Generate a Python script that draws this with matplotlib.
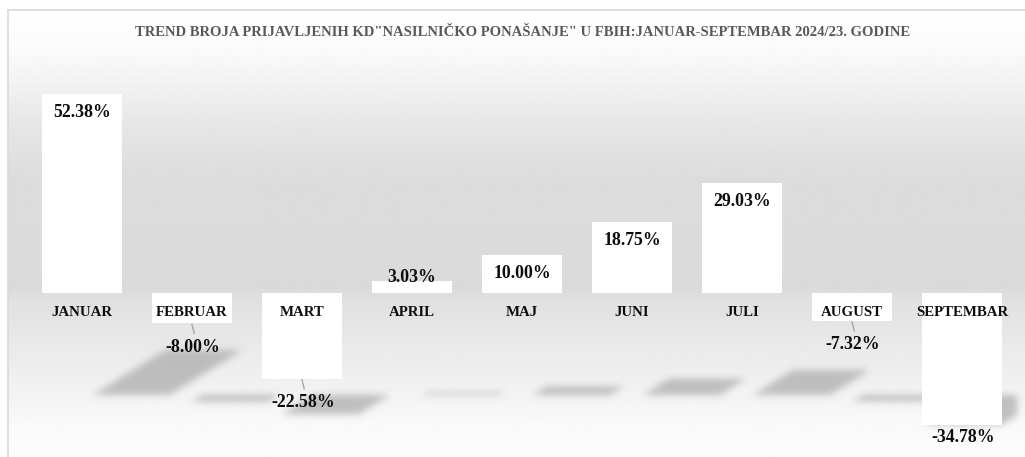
import numpy as np
import matplotlib
matplotlib.use("Agg")
import matplotlib.pyplot as plt
from matplotlib.patches import Polygon
from matplotlib.colors import to_rgb

# ---- data ----
months = ["JANUAR", "FEBRUAR", "MART", "APRIL", "MAJ", "JUNI", "JULI", "AUGUST", "SEPTEMBAR"]
changes = [52.38, -8.00, -22.58, 3.03, 10.00, 18.75, 29.03, -7.32, -34.78]
title = 'TREND BROJA PRIJAVLJENIH KD"NASILNIČKO PONAŠANJE" U FBIH:JANUAR-SEPTEMBAR 2024/23. GODINE'

W, H = 1025, 457
DPI = 100
fig = plt.figure(figsize=(W / DPI, H / DPI), dpi=DPI)
fig.patch.set_facecolor("white")

SERIF = ["Liberation Serif", "DejaVu Serif"]

# ---- background (chart area with gradient) ----
bg = fig.add_axes([0, 0, 1, 1], zorder=0)
bg.set_xlim(0, W)
bg.set_ylim(H, 0)
bg.axis("off")
stops_y = [9, 40, 80, 130, 180, 286, 302, 340, 380, 420, 457]
stops_v = [255, 252, 243, 229, 220, 218, 225, 232, 240, 248, 253]
yy = np.arange(9, H + 1)
vals = np.interp(yy, stops_y, stops_v) / 255.0
grad = np.repeat(vals[:, None], 2, axis=1)
bg.imshow(grad, cmap="gray", vmin=0, vmax=1, extent=[7.5, W, H, 9.5],
          aspect="auto", interpolation="bilinear")
bg.plot([7.5, 7.5], [9.5, H], color="#d9d9d9", lw=1.2)
bg.plot([7.5, W], [9.5, 9.5], color="#d9d9d9", lw=1.2)

# ---- main axes ----
PXU = 3.8  # pixels per percent
left_px, right_px = 27, 1017
top_px, bot_px, base_px = 60, 445, 293
ax = fig.add_axes([left_px / W, (H - bot_px) / H, (right_px - left_px) / W, (bot_px - top_px) / H],
                  zorder=1)
ax.patch.set_alpha(0)
ax.set_xlim(-0.5, len(months) - 0.5)
ax.set_ylim(-(bot_px - base_px) / PXU, (base_px - top_px) / PXU)
ax.axis("off")

x = np.arange(len(months))


def make_blur(sigma, color, alpha):
    rgb = to_rgb(color)

    def f(im, dpi):
        pad = int(3 * sigma) + 1
        a = np.pad(im[:, :, 3], pad)
        k = np.exp(-0.5 * (np.arange(-pad, pad + 1) / sigma) ** 2)
        k /= k.sum()
        a = np.apply_along_axis(lambda m: np.convolve(m, k, mode="same"), 0, a)
        a = np.apply_along_axis(lambda m: np.convolve(m, k, mode="same"), 1, a)
        out = np.zeros(a.shape + (4,))
        out[:, :, 0], out[:, :, 1], out[:, :, 2] = rgb
        out[:, :, 3] = a * alpha
        return out, -pad, -pad
    return f


# ---- perspective shadows ----
shadow_base = -26.8
bw = 0.70
for xi, v in zip(x, changes):
    bx = xi + 0.45
    ty = shadow_base + 0.225 * v
    tx = bx + 0.0125 * v
    poly = Polygon([(bx - bw / 2, shadow_base), (bx + bw / 2, shadow_base),
                    (tx + bw / 2, ty), (tx - bw / 2, ty)],
                   closed=True, facecolor="black", edgecolor="none", zorder=1)
    poly.set_agg_filter(make_blur(3.5, "#a8a8a8", 0.7))
    ax.add_patch(poly)

# ---- bars ----
ax.bar(x, changes, width=0.72, color="white", edgecolor="none", zorder=3)

# ---- category labels ----
for xi, m in zip(x, months):
    ax.text(xi, -20 / PXU, m, ha="center", va="center", fontsize=10.7,
            fontweight="bold", family=SERIF, color="#0d0d0d", zorder=5)

# ---- data labels ----
for xi, v in zip(x, changes):
    lab = f"{v:.2f}%"
    if v >= 0:
        ly = max(v - 19 / PXU, 16 / PXU)
        ax.text(xi, ly, lab, ha="center", va="center", fontsize=12.8,
                fontweight="bold", family=SERIF, color="#0d0d0d", zorder=5)
    else:
        ly = v - 24 / PXU
        lo = ax.get_ylim()[0] + 8 / PXU
        if ly < lo:
            ly = lo
        else:
            ax.plot([xi, xi + 0.02], [v - 1 / PXU, ly + 14 / PXU], color="#a6a6a6",
                    lw=1.0, zorder=4)
        ax.text(xi + 0.01, ly, lab, ha="center", va="center", fontsize=12.8,
                fontweight="bold", family=SERIF, color="#0d0d0d", zorder=5,
                clip_on=False)

# ---- title ----
fig.text(523 / W, 1 - 32 / H, title, ha="center", va="center", fontsize=10.5,
         fontweight="bold", family=SERIF, color="#595959", zorder=6)

fig.savefig("out.png", dpi=DPI)
